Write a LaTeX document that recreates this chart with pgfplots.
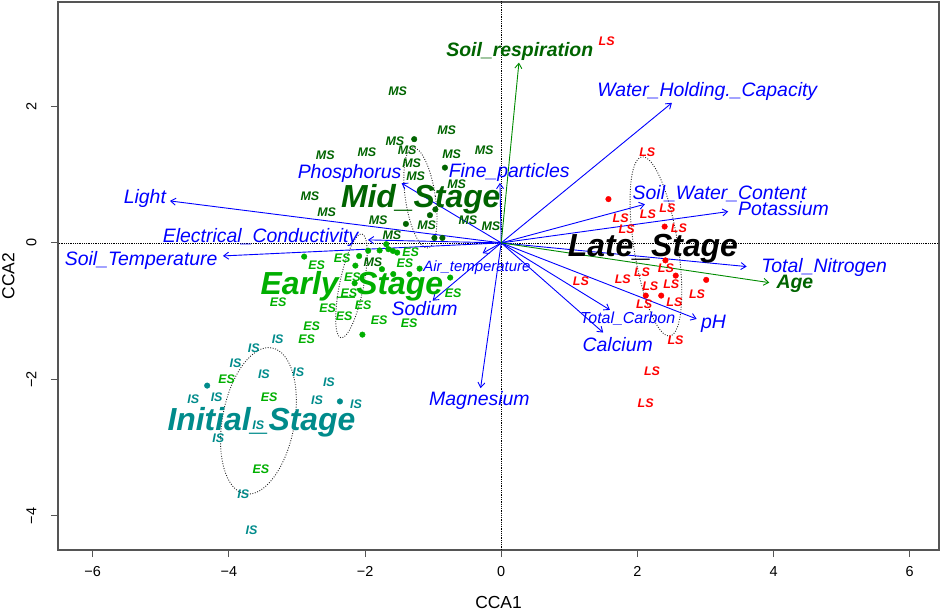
\documentclass[border=0pt]{standalone}
\usepackage{fontspec}
\setmainfont{Liberation Sans}
\usepackage{pgfplots}
\pgfplotsset{compat=1.18}
\usetikzlibrary{arrows.meta,calc}

\definecolor{vblue}{RGB}{0,0,255}
\definecolor{dkgreen}{RGB}{0,100,0}
\definecolor{argreen}{RGB}{0,139,0}
\definecolor{esgreen}{RGB}{0,175,0}
\definecolor{isteal}{RGB}{0,139,139}
\definecolor{lsred}{RGB}{255,0,0}
\definecolor{framegray}{RGB}{85,85,85}

\newcommand\fs[1]{\fontsize{#1}{#1}\selectfont}

\tikzset{ell/.style={black!85, line width=0.9bp, dash pattern=on 0.9bp off 1.6bp}}
\pgfplotsset{
  site/.style={only marks, mark=text, text mark={#1}, text mark as node=true,
    text mark style={font=\bfseries\itshape\fs{12.5}, inner sep=0pt, anchor=center}},
  dots/.style={only marks, mark=*, mark size=2.8bp},
  vec/.style={line width=0.9bp, -{Straight Barb[length=5bp,width=7bp]}},
  lab/.style n args={3}{only marks, mark=none, point meta=explicit symbolic,
    nodes near coords, nodes near coords align=center,
    nodes near coords style={anchor=center, inner sep=0pt, text depth=0pt,
      text height=#2, font=#3\fs{#1}}},
}

\begin{document}
\begin{tikzpicture}
\begin{axis}[
  scale only axis, width=881bp, height=548bp,
  xmin=-6.51, xmax=6.43, ymin=-4.50, ymax=3.53,
  axis line style={framegray, line width=1.3bp},
  tick style={framegray, line width=1.1bp},
  tick align=outside, major tick length=7bp,
  xtick pos=bottom, ytick pos=left,
  xtick={-6,-4,-2,0,2,4,6}, xticklabels={−6,−4,−2,0,2,4,6},
  ytick={-4,-2,0,2}, yticklabels={−4,−2,0,2},
  tick label style={font=\fs{14.5}},
  xticklabel style={anchor=north, yshift=-6bp},
  yticklabel style={rotate=90, anchor=south, yshift=11bp},
  xlabel={CCA1}, ylabel={CCA2},
  xlabel style={at={(axis description cs:0.5,-0.0949)}, anchor=center, font=\fs{17.5}},
  ylabel style={at={(axis description cs:-0.0562,0.5)}, anchor=center, font=\fs{17.5}},
]

% zero lines
\addplot[black, densely dotted, line width=0.8bp] coordinates {(-7,0) (7,0)};
\addplot[black, densely dotted, line width=0.8bp] coordinates {(0,-5) (0,4)};

% group ellipses
\draw[ell, rotate around={8.5:(axis cs:-1.187,0.659)}] (axis cs:-1.187,0.659) ellipse [x radius=15bp, y radius=50.6bp];
\draw[ell, rotate around={-11.4:(axis cs:-2.200,-0.630)}] (axis cs:-2.200,-0.630) ellipse [x radius=12bp, y radius=53bp];
\draw[ell, rotate around={-10.5:(axis cs:-3.566,-2.608)}] (axis cs:-3.566,-2.608) ellipse [x radius=36bp, y radius=74.2bp];
\draw[ell, rotate around={8.9:(axis cs:2.272,-0.051)}] (axis cs:2.272,-0.051) ellipse [x radius=22bp, y radius=90.6bp];

% site labels
\addplot[site=MS, dkgreen] coordinates {
(-1.522,2.217) (-0.802,1.646) (-1.561,1.495) (-1.381,1.358) (-2.585,1.285)
(-1.973,1.334) (-0.729,1.304) (-0.250,1.358) (-1.316,1.168) (-1.257,0.972)
(-0.655,0.860) (-2.810,0.689) (-2.565,0.450) (-1.807,0.333) (-1.096,0.259)
(-0.489,0.333) (-0.151,0.239) (-1.606,0.117) (-1.885,-0.278)
};
\addplot[site=ES, esgreen] coordinates {
(-2.336,-0.224) (-2.712,-0.333) (-1.331,-0.142) (-1.415,-0.297) (-2.186,-0.498)
(-2.237,-0.740) (-3.276,-0.875) (-2.549,-0.957) (-2.027,-0.906) (-2.306,-1.080)
(-1.794,-1.133) (-1.353,-1.183) (-2.785,-1.216) (-2.858,-1.404) (-0.705,-0.737)
(-4.034,-1.993) (-3.408,-2.261) (-3.530,-3.312)
};
\addplot[site=IS, isteal] coordinates {
(-3.284,-1.411) (-3.633,-1.543) (-3.901,-1.763) (-3.486,-1.920) (-2.982,-1.901)
(-4.524,-2.290) (-4.180,-2.261) (-2.531,-2.047) (-2.707,-2.301) (-2.134,-2.359)
(-4.157,-2.862) (-3.790,-3.683) (-3.666,-4.206)
};
\addplot[site=LS, lsred] coordinates {
(2.145,1.329) (1.754,0.362) (1.842,0.198) (2.155,0.422) (2.441,0.508)
(2.610,0.215) (2.067,-0.425) (1.785,-0.532) (2.419,-0.371) (2.189,-0.630)
(2.497,-0.608) (2.100,-0.897) (2.544,-0.869) (2.875,-0.750) (1.171,-0.564)
(2.559,-1.426) (2.214,-1.873) (2.121,-2.355) (1.548,2.950)
};

% points
\addplot[dots, dkgreen] coordinates {
(-1.278,1.520) (-0.827,1.103) (-0.967,0.491) (-1.047,0.406) (-1.400,0.278)
(-0.981,0.073) (-0.864,0.073)
};
\addplot[dots, esgreen] coordinates {
(-2.894,-0.201) (-2.087,-0.193) (-1.954,-0.114) (-1.786,-0.110) (-1.689,-0.019)
(-1.657,-0.092) (-1.591,-0.117) (-1.528,-0.142) (-2.142,-0.333) (-1.752,-0.385)
(-1.586,-0.457) (-1.348,-0.457) (-1.199,-0.377) (-0.749,-0.508) (-2.153,-0.591)
(-2.039,-1.344)
};
\addplot[dots, isteal] coordinates {(-4.319,-2.091) (-2.369,-2.323)};
\addplot[dots, lsred] coordinates {
(1.575,0.642) (2.400,0.239) (2.412,-0.256) (2.563,-0.479) (3.011,-0.542)
(2.123,-0.772) (2.350,-0.772)
};

% environmental vectors
\addplot[vec, vblue] coordinates {(0,0) (-4.866,0.615)};
\addplot[vec, vblue] coordinates {(0,0) (-1.958,0.044)};
\addplot[vec, vblue] coordinates {(0,0) (-4.088,-0.191)};
\addplot[vec, vblue] coordinates {(0,0) (-1.463,0.875)};
\addplot[vec, vblue] coordinates {(0,0) (-0.019,0.879)};
\addplot[vec, vblue] coordinates {(0,0) (2.507,2.052)};
\addplot[vec, vblue] coordinates {(0,0) (2.111,0.567)};
\addplot[vec, vblue] coordinates {(0,0) (3.334,0.459)};
\addplot[vec, vblue] coordinates {(0,0) (3.605,-0.347)};
\addplot[vec, vblue] coordinates {(0,0) (2.870,-1.114)};
\addplot[vec, vblue] coordinates {(0,0) (1.597,-0.982)};
\addplot[vec, vblue] coordinates {(0,0) (1.498,-1.314)};
\addplot[vec, vblue] coordinates {(0,0) (-0.303,-2.129)};
\addplot[vec, vblue] coordinates {(0,0) (-1.008,-0.846)};
\addplot[vec, vblue] coordinates {(0,0) (-0.273,-0.151)};
\addplot[vec, argreen] coordinates {(0,0) (0.260,2.642)};
\addplot[vec, argreen] coordinates {(0,0) (3.937,-0.582)};

% vector labels
\addplot[lab={19.5}{14bp}{\itshape}, nodes near coords style={text=vblue}] coordinates {
(-5.234,0.684) [Light]
(-3.534,0.113) [Electrical\_Conductivity]
(-5.288,-0.230) [Soil\_Temperature]
(-2.227,1.045) [Phosphorus]
(0.118,1.055) [Fine\_particles]
(3.026,2.242) [Water\_Holding.\_Capacity]
(3.205,0.737) [Soil\_Water\_Content]
(4.145,0.508) [Potassium]
(4.743,-0.337) [Total\_Nitrogen]
(3.117,-1.153) [pH]
(1.711,-1.495) [Calcium]
(-0.320,-2.276) [Magnesium]
(-1.125,-0.967) [Sodium]
};
\addplot[lab={16}{11.5bp}{\itshape}, nodes near coords style={text=vblue}] coordinates {
(1.857,-1.092) [Total\_Carbon]
};
\addplot[lab={15}{10.8bp}{\itshape}, nodes near coords style={text=vblue}] coordinates {
(-0.357,-0.347) [Air\_temperature]
};
\addplot[lab={19.5}{14bp}{\bfseries\itshape}, nodes near coords style={text=dkgreen}] coordinates {
(0.272,2.840) [Soil\_respiration]
(4.314,-0.561) [Age]
};

% group centroid labels
\addplot[lab={32}{23bp}{\bfseries\itshape}, nodes near coords style={text=dkgreen}] coordinates {(-1.182,0.692) [Mid\_Stage]};
\addplot[lab={32}{23bp}{\bfseries\itshape}, nodes near coords style={text=esgreen}] coordinates {(-2.193,-0.593) [Early\_Stage]};
\addplot[lab={32}{23bp}{\bfseries\itshape}, nodes near coords style={text=black}] coordinates {(2.228,-0.029) [Late\_Stage]};
\addplot[lab={32}{23bp}{\bfseries\itshape}, nodes near coords style={text=isteal}] coordinates {(-3.522,-2.579) [Initial\_Stage]};
% site label that sits on the centroid label's underscore
\addplot[site=IS, isteal] coordinates {(-3.569,-2.667)};

\end{axis}
\pgfresetboundingbox
\path[use as bounding box] ($(current axis.south west)+(-58bp,-60bp)$) rectangle ($(current axis.north east)+(2bp,2bp)$);
\end{tikzpicture}
\end{document}
